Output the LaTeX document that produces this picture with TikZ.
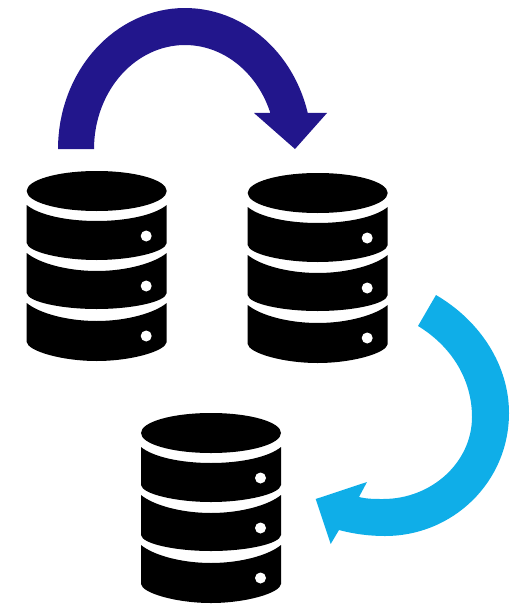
\documentclass[tikz,border=0pt]{standalone}
\definecolor{arrownavy}{HTML}{22168C}
\definecolor{arrowcyan}{HTML}{0FAEE8}
\tikzset{
  dbpart/.style={fill=black,draw=none},
  dbdot/.style={fill=white,draw=none},
  pics/dbstack/.style={code={
    \fill[dbpart] (-70,-20) .. controls (-70,-31) and (-39,-40) .. (0,-40) .. controls (39,-40) and (70,-31) .. (70,-20)
      .. controls (70,-9) and (39,0) .. (0,0) .. controls (-39,0) and (-70,-9) .. (-70,-20) -- cycle;
    \foreach \ta/\tc/\tb/\td in {-6/10/32/49, 42/60/82/98, 92/110/131/150}{
      \fill[dbpart] (-70,\ta) .. controls (-58,\ta+10) and (-30,\tc) .. (0,\tc) .. controls (30,\tc) and (58,\ta+10) .. (70,\ta)
        -- (70,\tb) .. controls (69,\tb+9) and (35,\td) .. (0,\td) .. controls (-35,\td) and (-69,\tb+9) .. (-70,\tb) -- cycle;
    }
    \foreach \d in {25,75,125}{ \fill[dbdot] (49.5,\d) circle (5.5); }
  }}
}
\begin{document}
\begin{tikzpicture}[x=1pt,y=-1pt]
\useasboundingbox (0,0) rectangle (521,607);
\pic at (96.7,211) {dbstack};
\pic at (317.7,213) {dbstack};
\pic at (211,453) {dbstack};
\fill[arrownavy] plot[domain=180:14.8,samples=60] ({185+127*cos(\x)},{149-141*sin(\x)})
  -- (327,113) -- (295,149) -- (254,113) -- (270.4,113)
  -- plot[domain=20.2:180,samples=60] ({185+91*cos(\x)},{149-104*sin(\x)}) -- cycle;
\fill[arrowcyan] (436,295) .. controls (482,322) and (509,367) .. (509,413)
  .. controls (509,482) and (453,536) .. (385,536)
  .. controls (369,536) and (354,534) .. (339,530)
  -- (330.7,544) -- (315.7,499) -- (367,482) -- (359,497)
  .. controls (367,499) and (375,499) .. (383,499)
  .. controls (432,499) and (472,462) .. (472,417)
  .. controls (472,379) and (451,346) .. (418,326) -- cycle;
\end{tikzpicture}
\end{document}
